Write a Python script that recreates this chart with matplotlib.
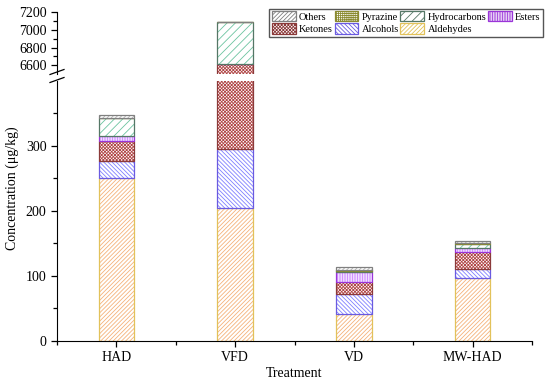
import matplotlib
matplotlib.use("Agg")
import matplotlib.pyplot as plt
from matplotlib.patches import Patch
import numpy as np

plt.rcParams['font.family'] = ['Liberation Serif', 'DejaVu Serif']
plt.rcParams['hatch.linewidth'] = 0.6

treatments = ['HAD', 'VFD', 'VD', 'MW-HAD']
aldehydes = [251, 204, 41, 96]
alcohols = [26, 91, 31, 14]
ketones = [30, 6321, 19, 27]
esters = [8, 0, 15, 5]
hydrocarbons = [27, 471, 2, 7]
pyrazine = [1, 0, 1, 2]
others = [4, 0, 4, 3]

series = [
    ('Aldehydes', aldehydes, '#F5B27A', '#E2C25A', '/' * 8),
    ('Alcohols', alcohols, '#7F7FFF', '#6A5AE0', '\\' * 8),
    ('Ketones', ketones, '#B04848', '#8B3A3A', 'x' * 10),
    ('Esters', esters, '#C77DFF', '#9A35D8', '|' * 10),
    ('Hydrocarbons', hydrocarbons, '#6CC4A0', '#557766', '////'),
    ('Pyrazine', pyrazine, '#C8C860', '#8A8A30', '+' * 8),
    ('Others', others, '#B0B0B0', '#808080', '/' * 8),
]

W, H = 550, 379
fig = plt.figure(figsize=(5.5, 3.79), dpi=100)
left, right = 57 / W, 532 / W
ax_lo = fig.add_axes([left, (H - 340.7) / H, right - left, (340.7 - 80.7) / H])
ax_hi = fig.add_axes([left, (H - 74) / H, right - left, (74 - 12.3) / H])

x = np.arange(len(treatments))
bw = 0.30
for ax in (ax_lo, ax_hi):
    bottom = np.zeros(len(treatments))
    for name, vals, hc, ec, hatch in series:
        vals = np.array(vals, dtype=float)
        ax.bar(x, vals, bw, bottom=bottom, facecolor='white', edgecolor=hc,
               hatch=hatch, linewidth=0)
        ax.bar(x, vals, bw, bottom=bottom, facecolor='none', edgecolor=ec,
               linewidth=0.9)
        bottom += vals
    ax.set_xlim(-0.5, 3.5)
    ax.spines['top'].set_visible(False)
    ax.spines['right'].set_visible(False)
    ax.tick_params(axis='both', direction='out', labelsize=10, length=4, width=0.9)
    ax.tick_params(which='minor', direction='out', length=3, width=0.9)

ax_lo.set_ylim(0, 400)
ax_lo.set_yticks([0, 100, 200, 300])
ax_lo.set_yticks([50, 150, 250, 350], minor=True)
ax_lo.set_xticks(x)
ax_lo.set_xticklabels(treatments)
ax_lo.set_xticks([-0.5, 0.5, 1.5, 2.5, 3.5], minor=True)
ax_lo.set_xlabel('Treatment', fontsize=10, labelpad=2)

ax_hi.set_ylim(6500, 7200)
ax_hi.set_yticks([6600, 6800, 7000, 7200])
ax_hi.set_yticks([6700, 6900, 7100], minor=True)
ax_hi.spines['bottom'].set_visible(False)
ax_hi.set_xticks([])
ax_hi.set_xticks([], minor=True)

# break marks
for yy in (72, 80):
    fig.add_artist(plt.Line2D([(left * W - 7) / W, (left * W + 7) / W],
                              [(H - yy - 2.5) / H, (H - yy + 2.5) / H],
                              color='black', lw=0.9))

fig.text(12 / W, (H - 188) / H, 'Concentration (μg/kg)', rotation=90,
         ha='center', va='center', fontsize=10)

handles = {name: Patch(facecolor='white', edgecolor=ec, hatch=hatch, linewidth=0.9)
           for name, vals, hc, ec, hatch in series}
order = ['Others', 'Ketones', 'Pyrazine', 'Alcohols', 'Hydrocarbons', 'Aldehydes', 'Esters']
fig.legend([handles[n] for n in order], order, loc='upper right',
           bbox_to_anchor=(543 / W, (H - 8.5) / H), ncol=4, fontsize=7.5,
           frameon=True, fancybox=False, edgecolor='#555555', framealpha=1,
           handlelength=2.3, handleheight=1.15, handletextpad=0.3,
           columnspacing=0.15, labelspacing=0.15, borderpad=0.25, borderaxespad=0)

fig.savefig('out.png', dpi=100)
